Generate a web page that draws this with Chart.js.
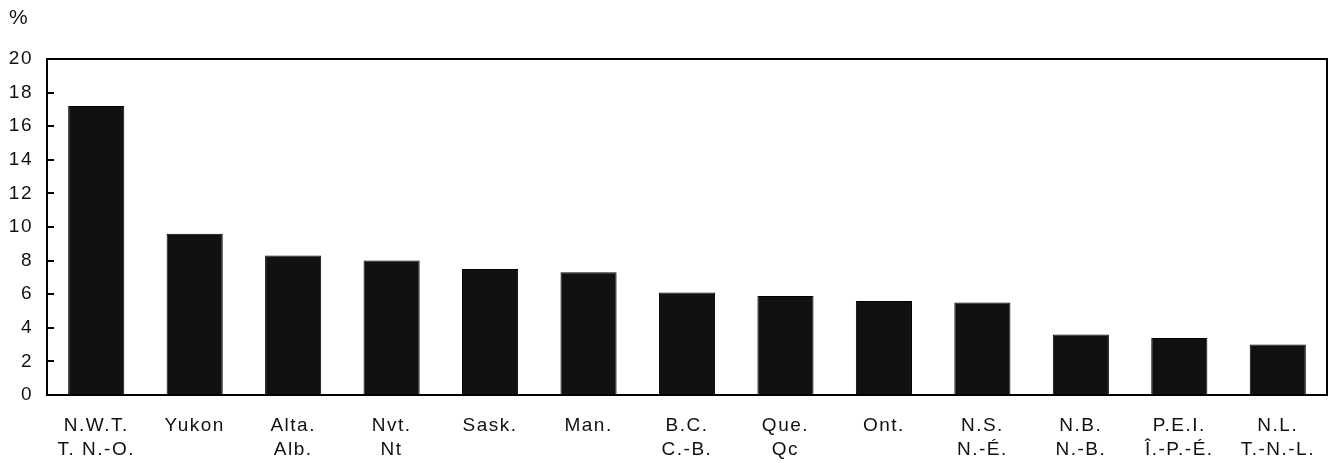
<!DOCTYPE html>
<html>
<head>
<meta charset="utf-8">
<script src="https://cdn.jsdelivr.net/npm/chart.js@4/dist/chart.umd.min.js"></script>
<style>
  html, body { margin: 0; padding: 0; background: #fff; }
  #wrap { width: 1331px; height: 463px; }
</style>
</head>
<body>
<div id="wrap"><canvas id="chart" width="1331" height="463"></canvas></div>
<script>
const provinces = [
  ['N.W.T.', 'T. N.-O.'], ['Yukon', ''], ['Alta.', 'Alb.'], ['Nvt.', 'Nt'],
  ['Sask.', ''], ['Man.', ''], ['B.C.', 'C.-B.'], ['Que.', 'Qc'], ['Ont.', ''],
  ['N.S.', 'N.-É.'], ['N.B.', 'N.-B.'], ['P.E.I.', 'Î.-P.-É.'], ['N.L.', 'T.-N.-L.']
];
const rates = [17.2, 9.6, 8.3, 8.0, 7.5, 7.3, 6.1, 5.9, 5.6, 5.5, 3.6, 3.4, 3.0];
const yMin = 0;
const yMax = 20;
const yStep = 2;
const unitLabel = '%';

const font = { family: '"Liberation Sans", Arial, sans-serif', size: 19, lineHeight: 1.25 };

// spaced-out text like the original export
const spacing = {
  id: 'spacing',
  beforeDraw(chart) { chart.ctx.letterSpacing = '1.5px'; }
};

// box around the plot, inward y ticks and the unit label
const frame = {
  id: 'frame',
  afterDraw(chart) {
    const { ctx, chartArea: a } = chart;
    const y = chart.scales.y;
    ctx.save();
    ctx.strokeStyle = '#000';
    ctx.lineWidth = 2;
    ctx.beginPath();
    ctx.moveTo(a.left, a.top);
    ctx.lineTo(a.right, a.top);
    ctx.lineTo(a.right, a.bottom);
    y.ticks.forEach((t) => {
      const py = Math.round(y.getPixelForValue(t.value));
      ctx.moveTo(a.left, py);
      ctx.lineTo(a.left + 7, py);
    });
    ctx.stroke();
    ctx.fillStyle = '#111';
    ctx.letterSpacing = '0px';
    ctx.font = '21px "Liberation Sans", Arial, sans-serif';
    ctx.textBaseline = 'middle';
    ctx.fillText(unitLabel, 9, 18);
    ctx.restore();
  }
};

new Chart(document.getElementById('chart'), {
  type: 'bar',
  data: {
    labels: provinces,
    datasets: [{
      data: rates,
      backgroundColor: '#111111',
      borderColor: '#000000',
      borderWidth: 1,
      categoryPercentage: 1,
      barPercentage: 0.57
    }]
  },
  options: {
    responsive: false,
    animation: false,
    layout: { padding: { left: 0, right: 4, top: 59, bottom: 0 } },
    plugins: { legend: { display: false }, tooltip: { enabled: false } },
    scales: {
      x: {
        grid: { display: false, drawTicks: false },
        border: { color: '#000', width: 2 },
        ticks: { color: '#111', font: font, padding: 19, maxRotation: 0, autoSkip: false },
        afterFit(scale) { scale.height = 68; }
      },
      y: {
        min: yMin,
        max: yMax,
        grid: { drawOnChartArea: false, drawTicks: false },
        border: { color: '#000', width: 2 },
        ticks: { stepSize: yStep, color: '#111', font: font, padding: 14 },
        afterFit(scale) { scale.width = 47; }
      }
    }
  },
  plugins: [spacing, frame]
});
</script>
</body>
</html>
